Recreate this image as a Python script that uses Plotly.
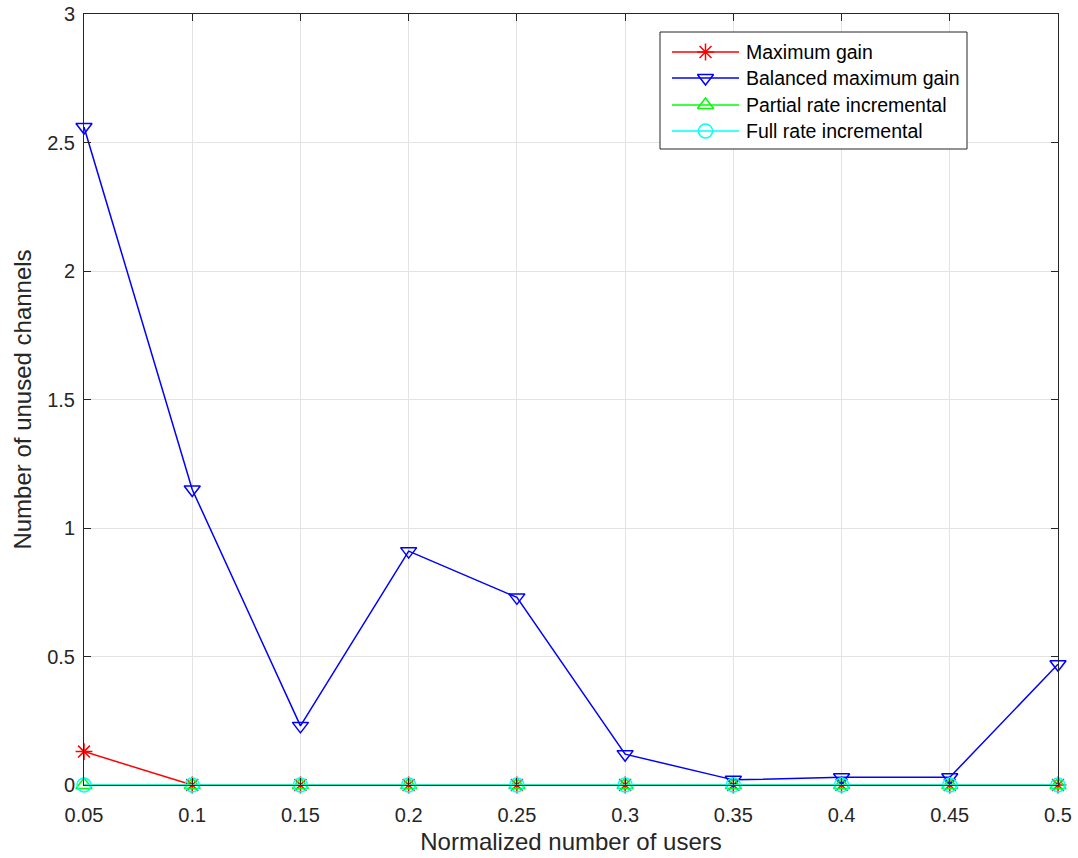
import plotly.graph_objects as go

users = [0.05, 0.10, 0.15, 0.20, 0.25, 0.30, 0.35, 0.40, 0.45, 0.50]
max_gain = [0.13, 0, 0, 0, 0, 0, 0, 0, 0, 0]
balanced_max_gain = [2.56, 1.15, 0.23, 0.91, 0.73, 0.12, 0.02, 0.03, 0.03, 0.47]
partial_rate = [0, 0, 0, 0, 0, 0, 0, 0, 0, 0]
full_rate = [0, 0, 0, 0, 0, 0, 0, 0, 0, 0]

x_ticks = [0.05, 0.1, 0.15, 0.2, 0.25, 0.3, 0.35, 0.4, 0.45, 0.5]
x_tick_text = ["0.05", "0.1", "0.15", "0.2", "0.25", "0.3", "0.35", "0.4", "0.45", "0.5"]
y_ticks = [0, 0.5, 1, 1.5, 2, 2.5, 3]
y_tick_text = ["0", "0.5", "1", "1.5", "2", "2.5", "3"]

series = [
    ("Maximum gain", max_gain, "#ff0000", "asterisk-open"),
    ("Balanced maximum gain", balanced_max_gain, "#0000ff", "triangle-down-open"),
    ("Partial rate incremental", partial_rate, "#00ff00", "triangle-up-open"),
    ("Full rate incremental", full_rate, "#00ffff", "circle-open"),
]

FONT = "Liberation Sans, Arial, Helvetica, sans-serif"
INK = "#262626"
LW = 1.5
MS = 14

fig = go.Figure()
for name, vals, color, symbol in series:
    fig.add_trace(go.Scatter(
        x=users, y=vals, name=name, mode="lines+markers",
        line=dict(color=color, width=LW),
        marker=dict(symbol=symbol, size=MS, color=color, line=dict(color=color, width=LW)),
        cliponaxis=False, showlegend=False,
    ))

# Boxed legend drawn on an overlay axis whose units are screen pixels
# (plot area spans x 84..1058, y 14..785).
box_l, box_r, box_t, box_b = 660, 967, 32, 149
line_x0, line_x1, text_x = 672, 739, 744
row_y = [52, 78, 105, 131]

fig.add_trace(go.Scatter(
    x=[box_l, box_r, box_r, box_l, box_l], y=[box_t, box_t, box_b, box_b, box_t],
    xaxis="x2", yaxis="y2", mode="lines", fill="toself", fillcolor="white",
    line=dict(color=INK, width=1), hoverinfo="skip", showlegend=False,
))
for (name, _, color, symbol), yy in zip(series, row_y):
    fig.add_trace(go.Scatter(
        x=[line_x0, line_x1], y=[yy, yy], xaxis="x2", yaxis="y2", mode="lines",
        line=dict(color=color, width=LW), hoverinfo="skip", showlegend=False,
    ))
    fig.add_trace(go.Scatter(
        x=[(line_x0 + line_x1) / 2], y=[yy], xaxis="x2", yaxis="y2", mode="markers",
        marker=dict(symbol=symbol, size=MS, color=color, line=dict(color=color, width=LW)),
        hoverinfo="skip", showlegend=False,
    ))
    fig.add_annotation(
        x=text_x, y=yy, xref="x2", yref="y2", text=name, showarrow=False,
        xanchor="left", yanchor="middle",
        font=dict(family=FONT, size=19.5, color="#000000"),
    )

axis_common = dict(
    showline=True, linecolor=INK, linewidth=1, mirror="ticks",
    ticks="inside", ticklen=7, tickcolor=INK,
    showgrid=True, gridcolor="#e3e3e3", gridwidth=1, zeroline=False,
    tickfont=dict(family=FONT, size=20, color=INK),
    title_font=dict(family=FONT, size=24, color=INK),
    automargin=False,
)

fig.update_xaxes(
    range=[0.05, 0.5], tickvals=x_ticks, ticktext=x_tick_text,
    title_text="Normalized number of users", title_standoff=8,
    ticklabelstandoff=12, **axis_common,
)
fig.update_yaxes(
    range=[0, 3], tickvals=y_ticks, ticktext=y_tick_text,
    title_text="Number of unused channels", title_standoff=8,
    ticklabelstandoff=4, **axis_common,
)

fig.update_layout(
    width=1078, height=858,
    margin=dict(l=84, r=20, t=14, b=73),
    plot_bgcolor="white", paper_bgcolor="white",
    showlegend=False,
    xaxis2=dict(overlaying="x", range=[84, 1058], visible=False, fixedrange=True),
    yaxis2=dict(overlaying="y", range=[785, 14], visible=False, fixedrange=True),
)

fig.write_html("out.html")
